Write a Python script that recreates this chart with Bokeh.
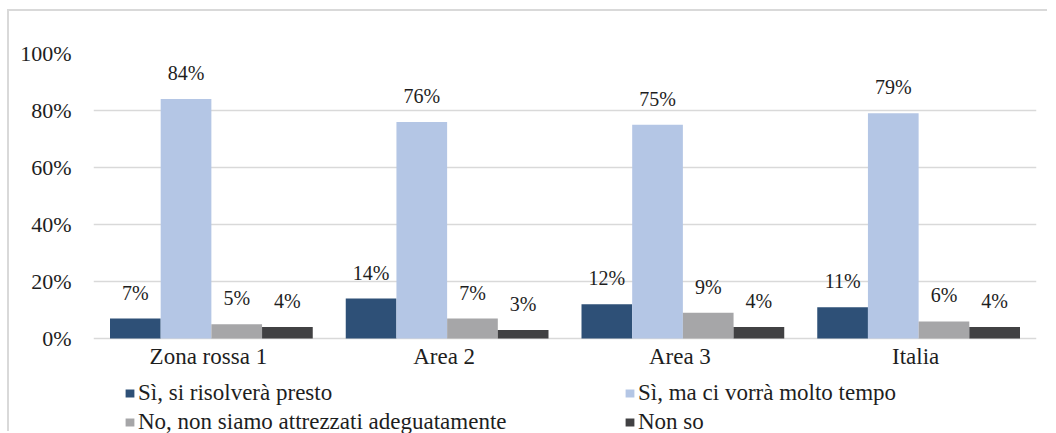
from bokeh.plotting import figure
from bokeh.models import ColumnDataSource, FactorRange, NumeralTickFormatter, Legend, LegendItem, FixedTicker, LabelSet, Grid
from bokeh.transform import dodge
from bokeh.embed import file_html
from bokeh.resources import INLINE

categories = ["Zona rossa 1", "Area 2", "Area 3", "Italia"]
series_names = ["Sì, si risolverà presto", "Sì, ma ci vorrà molto tempo",
                "No, non siamo attrezzati adeguatamente", "Non so"]
si_presto = [0.07, 0.14, 0.12, 0.11]
si_tempo = [0.84, 0.76, 0.75, 0.79]
no_attrezzati = [0.05, 0.07, 0.09, 0.06]
non_so = [0.04, 0.03, 0.04, 0.04]
y_ticks = [0, 0.2, 0.4, 0.6, 0.8, 1.0]

series = [si_presto, si_tempo, no_attrezzati, non_so]
colors = ["#2e5077", "#b4c6e5", "#a6a6a8", "#414143"]
offsets = [-0.3225, -0.1075, 0.1075, 0.3225]
bar_w = 0.215

FONT = "'Liberation Serif', serif"
TXT = "#1e1e1e"

# frame extends below 0 so the legend area lies inside it
p = figure(x_range=FactorRange(*categories, range_padding=0), y_range=(-0.3333, 1.0),
           width=1040, height=422, output_backend="svg", toolbar_location=None,
           x_axis_location=None,
           min_border_left=84, min_border_right=13, min_border_top=42, min_border_bottom=0)
p.styles = {"border-top": "2px solid #d9d9d9", "border-left": "2px solid #d9d9d9",
            "margin-top": "9px", "margin-left": "7px"}
p.outline_line_color = None
# drop the vertical (category) grid entirely
p.center = [r for r in p.center if not (isinstance(r, Grid) and r.dimension == 0)]
p.ygrid.grid_line_color = "#d9d9d9"
p.ygrid.grid_line_width = 1.5

p.yaxis.ticker = FixedTicker(ticks=y_ticks)
p.yaxis.formatter = NumeralTickFormatter(format="0%")
p.yaxis.axis_line_color = None
p.yaxis.major_tick_line_color = None
p.yaxis.minor_tick_line_color = None
p.yaxis.major_tick_out = 0
p.yaxis.major_tick_in = 0
p.yaxis.major_label_text_font = FONT
p.yaxis.major_label_text_color = TXT
p.yaxis.major_label_text_font_size = "22px"
p.yaxis.major_label_standoff = 22

# category labels under the baseline
cat_src = ColumnDataSource(dict(cat=categories, y0=[0] * len(categories)))
p.add_layout(LabelSet(x="cat", y="y0", text="cat", source=cat_src, text_align="center",
                      text_baseline="alphabetic", y_offset=-25, x_offset=-3, text_font=FONT,
                      text_font_size="23px", text_color=TXT))

renderers = []
for vals, col, off, name in zip(series, colors, offsets, series_names):
    src = ColumnDataSource(dict(cat=categories, val=vals,
                                lab=[f"{round(v*100)}%" for v in vals]))
    r = p.vbar(x=dodge("cat", off, range=p.x_range), top="val", width=bar_w,
               source=src, fill_color=col, line_color=None)
    renderers.append((name, r))
    p.add_layout(LabelSet(x=dodge("cat", off, range=p.x_range), y="val", text="lab", source=src,
                          text_align="center", text_baseline="alphabetic", y_offset=19,
                          text_font=FONT, text_font_size="20px", text_color=TXT))

def make_legend(idx, loc):
    items = [LegendItem(label=renderers[i][0], renderers=[renderers[i][1]]) for i in idx]
    return Legend(items=items, orientation="horizontal", location=loc, padding=0, margin=0,
                  border_line_color=None, background_fill_alpha=0,
                  glyph_width=11, glyph_height=10, label_standoff=3, spacing=106,
                  label_width=380, label_height=28,
                  label_text_font=FONT, label_text_font_size="23px", label_text_color=TXT)

p.add_layout(make_legend([0, 1], (31, 26)), "center")
p.add_layout(make_legend([2, 3], (31, -3)), "center")

open("out.html", "w").write(file_html(p, INLINE))
